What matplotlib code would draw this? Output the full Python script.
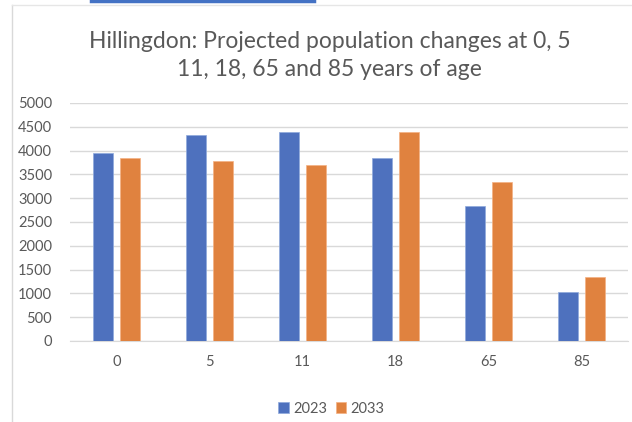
import numpy as np
import matplotlib.pyplot as plt
from matplotlib.lines import Line2D

ages = ['0', '5', '11', '18', '65', '85']
pop_2023 = [3940, 4335, 4385, 3845, 2835, 1030]
pop_2033 = [3850, 3780, 3695, 4390, 3340, 1335]
series_names = ['2023', '2033']
yticks = list(range(0, 5001, 500))

blue = '#4E71BE'
orange = '#E0823F'
grey = '#595959'

plt.rcParams['font.family'] = ['Lato', 'DejaVu Sans']

fig = plt.figure(figsize=(6.32, 4.22), dpi=100)
ax = fig.add_axes([0.111, 0.192, 0.883, 0.564])

x = np.arange(len(ages))
w = 0.22
ax.bar(x - 0.145, pop_2023, w, color=blue, edgecolor='#8FAADC', linewidth=0.5,
       label=series_names[0], zorder=3)
ax.bar(x + 0.145, pop_2033, w, color=orange, edgecolor='#F4B183', linewidth=0.5,
       label=series_names[1], zorder=3)

ax.set_xlim(-0.5, len(ages) - 0.5)
ax.set_ylim(0, 5000)
ax.set_yticks(yticks)
ax.set_xticks(x)
ax.set_xticklabels(ages)
ax.yaxis.grid(True, color='#D9D9D9', linewidth=1, zorder=0)
for s in ['top', 'right', 'left']:
    ax.spines[s].set_visible(False)
ax.spines['bottom'].set_color('#D9D9D9')
ax.tick_params(axis='both', length=0, colors=grey, labelsize=10.5)
ax.tick_params(axis='x', pad=10)
ax.tick_params(axis='y', pad=13)

fig.text(0.522, 0.868, 'Hillingdon: Projected population changes at 0, 5\n'
         '11, 18, 65 and 85 years of age', ha='center', va='center',
         fontsize=16.5, color=grey, linespacing=1.38)

ax.legend(loc='upper center', bbox_to_anchor=(0.468, -0.2), ncol=2, frameon=False,
          fontsize=10.5, labelcolor=grey, handlelength=0.7, handleheight=0.7,
          handletextpad=0.3, columnspacing=0.6)

# screenshot frame
fig.add_artist(Line2D([0.019, 0.019], [0, 0.988], color='#D9D9D9', lw=1))
fig.add_artist(Line2D([0.019, 1.0], [0.988, 0.988], color='#E6E6E6', lw=1))
fig.add_artist(Line2D([0.144, 0.497], [0.997, 0.997], color='#4472C4', lw=2.5))

fig.savefig('out.png', dpi=100)
